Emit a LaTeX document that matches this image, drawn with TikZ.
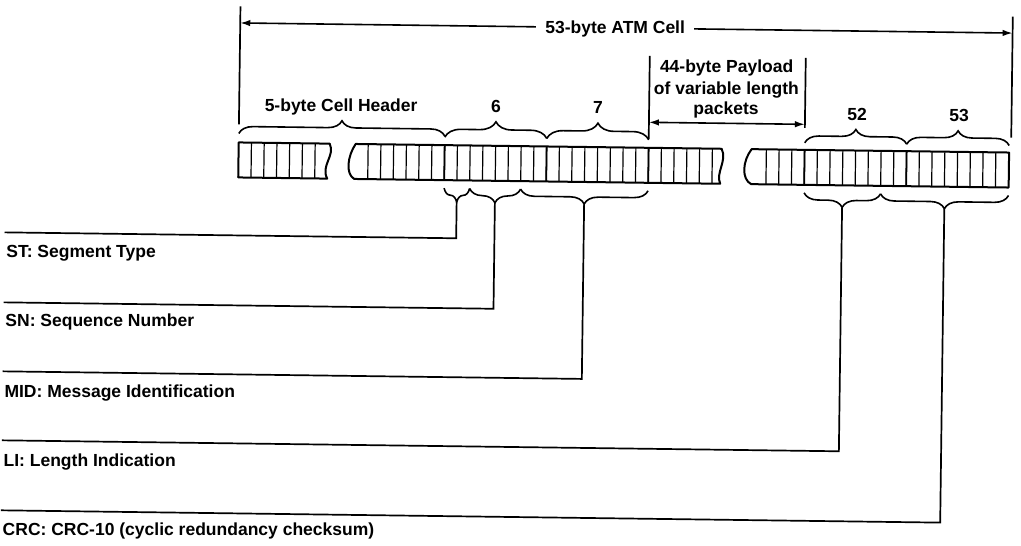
\documentclass[tikz,border=0pt]{standalone}
\usepackage{fontspec}
\setmainfont{Liberation Sans}
\usetikzlibrary{decorations.pathreplacing,arrows.meta}
\tikzset{
  lbl/.style={font=\fontsize{17.5}{21}\selectfont\bfseries, inner sep=0pt},
  conn/.style={line width=1.7pt},
  dimline/.style={line width=1.6pt, arrows={Latex[length=10pt,width=6.5pt]-Latex[length=10pt,width=6.5pt]}},
  stripbox/.style={line width=2pt, line join=round},
  cellline/.style={line width=1.2pt},
  groupline/.style={line width=1.8pt},
  bup/.style={decorate, decoration={brace, amplitude=#1}, line width=1.6pt},
  bup/.default=14pt,
  bdown/.style={decorate, decoration={brace, mirror, amplitude=14pt}, line width=1.6pt},
}
\begin{document}
\begin{tikzpicture}[x=1pt,y=-1pt]
\useasboundingbox (0,0) rectangle (1021,546);
\fill[white] (0,0) rectangle (1021,546);
\begin{scope}[rotate around={-0.75:(510,273)}]
% ---- overall cell dimension
\coordinate (cTopL) at (237,10);
\coordinate (cBotL) at (237,128);
\coordinate (cTopR) at (1009.5,10);
\coordinate (cBotR) at (1009.5,131);
\coordinate (cL) at (237,26.5);
\coordinate (cR) at (1009.5,26.5);
\draw[conn] (cTopL) -- (cBotL);
\draw[conn] (cTopR) -- (cBotR);
\draw[dimline] (cL) -- (cR);
\node[lbl, anchor=base, fill=white, inner xsep=9pt, inner ysep=3pt] (cell) at (612,32.5) {53-byte ATM Cell};
% ---- payload dimension
\coordinate (pTopL) at (647,54);
\coordinate (pBotL) at (647,137);
\coordinate (pTopR) at (803,54);
\coordinate (pBotR) at (803,124);
\coordinate (pL) at (647,120.5);
\coordinate (pR) at (803,120.5);
\draw[conn] (pTopL) -- (pBotL);
\draw[conn] (pTopR) -- (pBotR);
\draw[dimline] (pL) -- (pR);
\node[lbl, anchor=base] (pay1) at (724,70) {44-byte Payload};
\node[lbl, anchor=base] (pay2) at (724,91.5) {of variable length};
\node[lbl, anchor=base] (pay3) at (724,112) {packets};
% ---- upper braces
\draw[bup=14pt] (237,137) -- (443,137);
\draw[bup=16pt] (443,138) -- (545,138);
\draw[bup=16pt] (545,138) -- (647,138);
\draw[bup=14pt] (803,139) -- (905,139);
\draw[bup=14pt] (905,139) -- (1007.5,139);
\node[lbl, anchor=base] (hdr) at (339,114) {5-byte Cell Header};
\node[lbl, anchor=base] (b6) at (494,113) {6};
\node[lbl, anchor=base] (b7) at (596,112.5) {7};
\node[lbl, anchor=base] (b52) at (855,115.5) {52};
\node[lbl, anchor=base] (b53) at (957,116) {53};
% ---- strip segment 1
\foreach \i in {1,...,6} \draw[cellline] ({237+12.75*\i},146) -- ({237+12.75*\i},181);
\draw[stripbox] (237,146) -- (328,146) .. controls (334,158) and (319,168) .. (326,181) -- (237,181) -- cycle;
% ---- strip segment 2
\foreach \i in {0,...,27} \draw[cellline] ({366.5+12.75*\i},146) -- ({366.5+12.75*\i},181);
\foreach \xx in {443,545,647} \draw[groupline] (\xx,146) -- (\xx,181);
\draw[stripbox] (354,146) -- (720,146) .. controls (726,158) and (714,170) .. (719,181) -- (353,181) .. controls (344,176) and (346,158) .. (354,146) -- cycle;
% ---- strip segment 3
\foreach \i in {0,...,18} \draw[cellline] ({764.75+12.75*\i},146) -- ({764.75+12.75*\i},181);
\foreach \xx in {803,905} \draw[groupline] (\xx,146) -- (\xx,181);
\draw[stripbox] (750,146) -- (1007.5,146) -- (1007.5,181) -- (750,181) .. controls (740,176) and (741,158) .. (750,146) -- cycle;
% ---- lower braces
\draw[bdown] (443,189) -- (468.5,189);
\draw[bdown] (468.5,189) -- (519.5,189);
\draw[bdown] (519.5,189) -- (647,189);
\draw[bdown] (803,189) -- (879.5,189);
\draw[bdown] (879.5,189) -- (1007.5,189);
\coordinate (stTip) at (455.75,203);
\coordinate (snTip) at (494,203);
\coordinate (midTip) at (583.25,203);
\coordinate (liTip) at (841.25,203);
\coordinate (crcTip) at (943.5,203);
\coordinate (stEnd) at (4,239);
\coordinate (snEnd) at (4,309);
\coordinate (midEnd) at (4,378);
\coordinate (liEnd) at (4,447);
\coordinate (crcEnd) at (4,517);
\draw[conn] (stTip) |- (stEnd);
\draw[conn] (snTip) |- (snEnd);
\draw[conn] (midTip) |- (midEnd);
\draw[conn] (liTip) |- (liEnd);
\draw[conn] (crcTip) |- (crcEnd);
\node[lbl, anchor=base west] (stlab) at (6,264) {ST: Segment Type};
\node[lbl, anchor=base west] (snlab) at (6,333) {SN: Sequence Number};
\node[lbl, anchor=base west] (midlab) at (6,404) {MID: Message Identification};
\node[lbl, anchor=base west] (lilab) at (6,473) {LI: Length Indication};
\node[lbl, anchor=base west] (crclab) at (6,542) {CRC: CRC-10 (cyclic redundancy checksum)};
\end{scope}
\end{tikzpicture}
\end{document}
